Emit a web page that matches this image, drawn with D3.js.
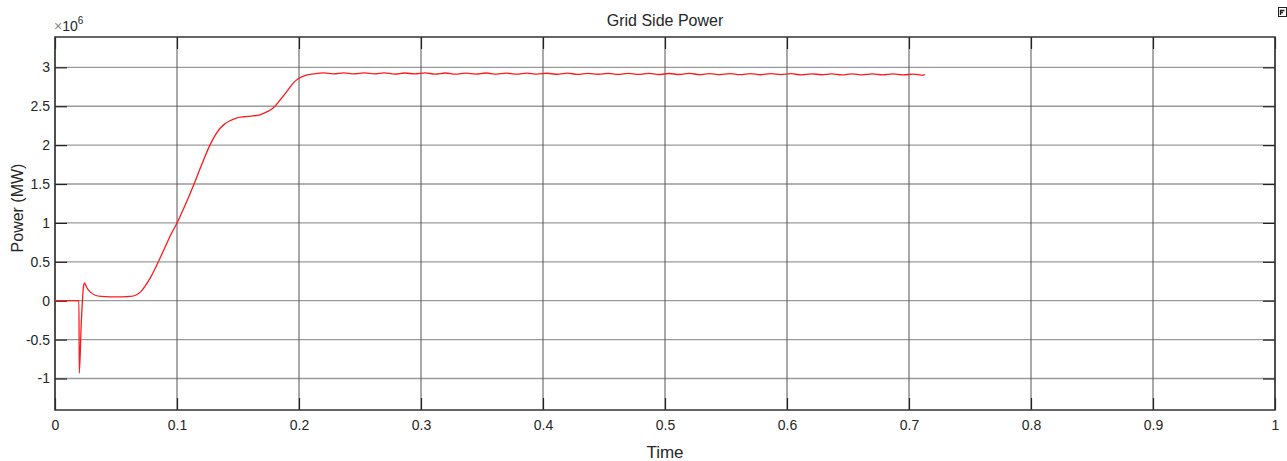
<!DOCTYPE html>
<html>
<head>
<meta charset="utf-8">
<script src="https://cdn.jsdelivr.net/npm/d3@7"></script>
<style>
  body { margin: 0; background: #fff; }
  text { font-family: "Liberation Sans", Arial, sans-serif; fill: #262626; }
</style>
</head>
<body>
<div id="chart"></div>
<script>
// time (s) and grid side power (x1e6 W)
var timeValues = [0, 0.0196, 0.0199, 0.0215, 0.0235, 0.0242, 0.026, 0.029, 0.033, 0.038, 0.045, 0.055,
  0.062, 0.066, 0.070, 0.074, 0.078, 0.082, 0.0847, 0.090, 0.095, 0.100, 0.105, 0.110, 0.114, 0.120,
  0.127, 0.131, 0.135, 0.139, 0.143, 0.148, 0.155, 0.162, 0.168, 0.174, 0.179, 0.185, 0.191, 0.196, 0.200,
  0.206, 0.212,
  0.2200, 0.2283, 0.2367, 0.2450, 0.2533, 0.2617, 0.2700, 0.2783, 0.2867, 0.2950,
  0.3033, 0.3117, 0.3200, 0.3283, 0.3367, 0.3450, 0.3533, 0.3617, 0.3700, 0.3783,
  0.3867, 0.3950, 0.4033, 0.4117, 0.4200, 0.4283, 0.4367, 0.4450, 0.4533, 0.4617,
  0.4700, 0.4783, 0.4867, 0.4950, 0.5033, 0.5117, 0.5200, 0.5283, 0.5367, 0.5450,
  0.5533, 0.5617, 0.5700, 0.5783, 0.5867, 0.5950, 0.6033, 0.6117, 0.6200, 0.6283,
  0.6367, 0.6450, 0.6533, 0.6617, 0.6700, 0.6783, 0.6867, 0.6950, 0.7033, 0.7117, 0.7130];

var powerValues = [0, 0, -0.93, -0.30, 0.20, 0.23, 0.17, 0.11, 0.07, 0.055, 0.05, 0.05,
  0.055, 0.07, 0.11, 0.19, 0.29, 0.41, 0.50, 0.68, 0.85, 1.00, 1.17, 1.35, 1.50, 1.74,
  2.00, 2.12, 2.21, 2.27, 2.31, 2.345, 2.365, 2.375, 2.39, 2.43, 2.48, 2.59, 2.71, 2.81, 2.86,
  2.90, 2.915,
  2.928, 2.916, 2.929, 2.915, 2.928, 2.916, 2.929, 2.914, 2.927, 2.915,
  2.928, 2.914, 2.927, 2.913, 2.926, 2.914, 2.927, 2.913, 2.925, 2.912,
  2.925, 2.912, 2.924, 2.911, 2.925, 2.910, 2.923, 2.911, 2.923, 2.909,
  2.922, 2.909, 2.923, 2.908, 2.921, 2.908, 2.922, 2.907, 2.920, 2.907,
  2.919, 2.906, 2.920, 2.905, 2.918, 2.906, 2.918, 2.904, 2.917, 2.905,
  2.916, 2.903, 2.917, 2.903, 2.915, 2.902, 2.915, 2.902, 2.914, 2.901, 2.906];

var xTicks = [0, 0.1, 0.2, 0.3, 0.4, 0.5, 0.6, 0.7, 0.8, 0.9, 1];
var yTicks = [-1, -0.5, 0, 0.5, 1, 1.5, 2, 2.5, 3];

var fullWidth = 1287;
var fullHeight = 461;
var margin = {top: 37, right: 12, bottom: 51, left: 55};
var width = fullWidth - margin.left - margin.right;
var height = fullHeight - margin.top - margin.bottom;

var svg = d3.select('#chart').append('svg')
  .attr('width', fullWidth)
  .attr('height', fullHeight);

var g = svg.append('g')
  .attr('transform', 'translate(' + margin.left + ',' + margin.top + ')');

var xScale = d3.scaleLinear().domain([0, 1]).range([0, width]);
var yScale = d3.scaleLinear().domain([-1.405, 3.39]).range([height, 0]);

// grid lines
g.selectAll('line.hgrid')
    .data(yTicks)
  .enter().append('line')
    .attr('x1', 0).attr('x2', width)
    .attr('y1', function(d) { return yScale(d); })
    .attr('y2', function(d) { return yScale(d); })
    .attr('stroke', '#9a9a9a')
    .attr('stroke-width', 1.3);

g.selectAll('line.vgrid')
    .data(xTicks)
  .enter().append('line')
    .attr('y1', 0).attr('y2', height)
    .attr('x1', function(d) { return xScale(d); })
    .attr('x2', function(d) { return xScale(d); })
    .attr('stroke', '#555')
    .attr('stroke-width', 1);

// axes with inward ticks
var xAxis = d3.axisBottom(xScale).tickValues(xTicks).tickSize(-12).tickSizeOuter(0).tickPadding(10)
  .tickFormat(function(d) { return String(d); });
var xTop = d3.axisTop(xScale).tickValues(xTicks).tickSize(-12).tickSizeOuter(0).tickFormat('');
var yAxis = d3.axisLeft(yScale).tickValues(yTicks).tickSize(-12).tickSizeOuter(0).tickPadding(5)
  .tickFormat(function(d) { return String(d); });
var yRight = d3.axisRight(yScale).tickValues(yTicks).tickSize(-12).tickSizeOuter(0).tickFormat('');

[
  g.append('g').attr('transform', 'translate(0,' + height + ')').call(xAxis),
  g.append('g').call(xTop),
  g.append('g').call(yAxis),
  g.append('g').attr('transform', 'translate(' + width + ',0)').call(yRight)
].forEach(function(ax) {
  ax.attr('font-size', null).attr('font-family', null);
  ax.select('.domain').remove();
  ax.selectAll('.tick line').attr('stroke', '#222').attr('stroke-width', 1.2);
  ax.selectAll('.tick text')
    .style('font-family', '"Liberation Sans", Arial, sans-serif')
    .style('font-size', '14px')
    .attr('fill', '#262626');
});

// frame
g.append('rect')
  .attr('width', width)
  .attr('height', height)
  .attr('fill', 'none')
  .attr('stroke', '#333')
  .attr('stroke-width', 1.5);

// trace
var points = timeValues.map(function(t, i) { return [t, powerValues[i]]; });
var line = d3.line()
  .x(function(d) { return xScale(d[0]); })
  .y(function(d) { return yScale(d[1]); })
  .curve(d3.curveMonotoneX);

g.append('path')
  .datum(points)
  .attr('d', line)
  .attr('fill', 'none')
  .attr('stroke', '#ff1a1a')
  .attr('stroke-width', 1.3);

// labels
svg.append('text')
  .attr('x', margin.left + width / 2)
  .attr('y', 26)
  .attr('text-anchor', 'middle')
  .style('font-size', '16px')
  .text('Grid Side Power');

svg.append('text')
  .attr('x', margin.left + width / 2)
  .attr('y', 458)
  .attr('text-anchor', 'middle')
  .style('font-size', '17px')
  .text('Time');

svg.append('text')
  .attr('transform', 'translate(23,208) rotate(-90)')
  .attr('text-anchor', 'middle')
  .style('font-size', '16px')
  .text('Power (MW)');

var expo = svg.append('text')
  .attr('x', 54)
  .attr('y', 31)
  .style('font-size', '14px')
  .attr('fill', '#444');
expo.append('tspan').text('\u00d7').attr('fill', '#888');
expo.append('tspan').text('10');
expo.append('tspan').text('6').attr('dy', -7).style('font-size', '10px');

// small scope icon in the top right corner
svg.append('rect')
  .attr('x', 1278.5).attr('y', 7.5).attr('width', 8).attr('height', 9)
  .attr('fill', '#fff').attr('stroke', '#222').attr('stroke-width', 1);
svg.append('path')
  .attr('d', 'M1280.5,15 L1280.5,10.5 L1284.5,10.5 M1280.5,12.5 L1283,12.5')
  .attr('fill', 'none').attr('stroke', '#222').attr('stroke-width', 1.4);
</script>
</body>
</html>
